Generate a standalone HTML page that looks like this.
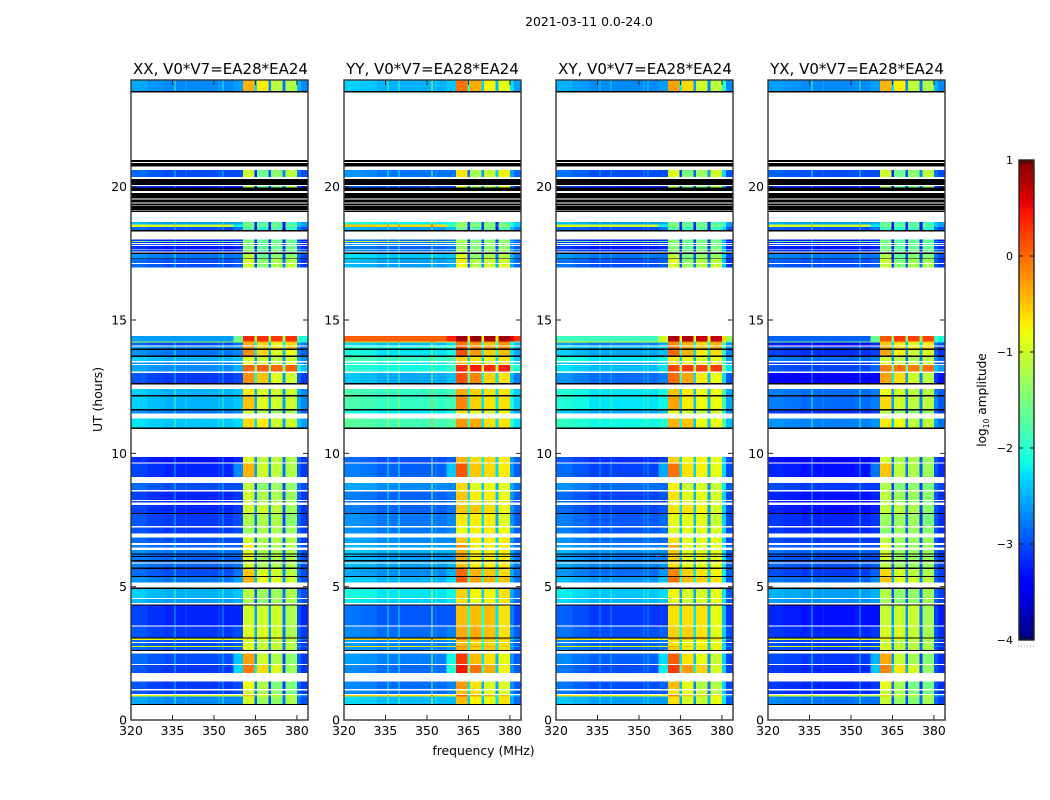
<!DOCTYPE html>
<html lang="en">
<head>
<meta charset="utf-8">
<title>2021-03-11 amplitude waterfall</title>
<style>
html,body{margin:0;padding:0;background:#fff;width:1050px;height:800px;overflow:hidden}
svg{display:block}
text{font-family:"DejaVu Sans","Liberation Sans",sans-serif;fill:#000}
</style>
</head>
<body>
<svg id="chart" xmlns="http://www.w3.org/2000/svg" width="1050" height="800" viewBox="0 0 1050 800">
  <rect x="0" y="0" width="1050" height="800" fill="#fff"/>
  <text x="589" y="26" font-size="12.4" text-anchor="middle">2021-03-11 0.0-24.0</text>
  <text x="220.5" y="74" font-size="15" text-anchor="middle">XX, V0*V7=EA28*EA24</text>
  <text x="432.5" y="74" font-size="15" text-anchor="middle">YY, V0*V7=EA28*EA24</text>
  <text x="645" y="74" font-size="15" text-anchor="middle">XY, V0*V7=EA28*EA24</text>
  <text x="857" y="74" font-size="15" text-anchor="middle">YX, V0*V7=EA28*EA24</text>
  <g id="panels"></g>
  <text x="483.5" y="755" font-size="12.4" text-anchor="middle">frequency (MHz)</text>
  <text transform="translate(102,399.5) rotate(-90)" font-size="12.4" text-anchor="middle">UT (hours)</text>
  <g id="colorbar"></g>
  <text transform="translate(986,400) rotate(-90)" font-size="12.2" text-anchor="middle">log<tspan font-size="7.5" dy="3">10</tspan><tspan dy="-3"> amplitude</tspan></text>
  <line x1="1018" y1="646" x2="1034" y2="646" stroke="#999" stroke-width="1" stroke-dasharray="1 2"/>
</svg>
<script>
// ---------- data: all values ----------
const panelNames = ['xx', 'yy', 'xy', 'yx'];
const freqTicks = [320, 335, 350, 365, 380];
const timeTicks = [0, 5, 10, 15, 20];
const colorbarTicks = [1, 0, -1, -2, -3, -4];
const colorbarLabels = ['1', '0', '\u22121', '\u22122', '\u22123', '\u22124'];

// frequency column edges in MHz
const freqEdges = [320, 326, 332, 335.7, 336.1, 339.7, 340.1, 345, 351.6, 352, 353, 353.4, 357, 360.5, 364.6, 365.6, 369.7, 370.7, 374.7, 375.8, 380, 381.5, 384];
// which level of a time row feeds each column: 0 left, 1 ramp, 2-5 bands, 6 tail
const columnSource = [0, 0, 0, 0, 0, 0, 0, 0, 0, 0, 0, 0, 1, 2, 3, 3, 4, 4, 5, 5, 6, 6];
// per-column offsets (log10 amplitude) for each polarisation
const columnOffsetXX = [.15, .05, 0, .7, 0, .2, 0, 0, .2, 0, .6, 0, 0, 0, -1.6, 0, -1.6, 0, -1.6, 0, .2, 0];
const columnOffsetYY = [.15, .1, 0, .7, 0, .7, 0, 0, 1.5, 0, .2, 0, 0, 0, -1.6, 0, -1.6, 0, -1.6, 0, .3, 0];
const columnOffsetXY = [.2, .1, 0, .4, 0, .4, 0, 0, .3, 0, .4, 0, 0, 0, -1.6, 0, -1.6, 0, -1.6, 0, .7, 0];
const columnOffsetYX = [.1, .05, 0, .9, 0, .2, 0, 0, .1, 0, .8, 0, 0, 0, -1.6, 0, -1.6, 0, -1.6, 0, .2, 0];

// time rows: start hour, end hour, left, ramp, band1-4, tail (log10 amplitude, XX)
const timeRows = [
  [23.58, 24, -2.7, -2.6, -0.4, -0.7, -1.1, -1.2, -2.7],
  [20.37, 20.62, -3.0, -3.0, -1.0, -1.6, -1.4, -1.1, -3.0],
  [19.96, 20.03, -3.2, -3.2, -1.2, -1.6, -1.5, -1.2, -3.2],
  [18.58, 18.67, -2.6, -2.5, -1.6, -1.8, -1.7, -1.9, -2.6],
  [18.49, 18.58, -1.0, -2.2, -1.5, -1.6, -1.6, -1.6, -2.6],
  [18.37, 18.49, -3.0, -2.8, -1.8, -2.0, -1.8, -2.0, -3.0],
  [17.97, 18.02, -3.3, -3.2, -1.6, -1.8, -1.7, -1.7, -3.3],
  [17.93, 17.97, -1.6, -1.8, -1.2, -1.4, -1.4, -1.4, -2.8],
  [17.88, 17.93, -3.3, -3.2, -1.6, -1.8, -1.7, -1.7, -3.3],
  [17.81, 17.85, -3.1, -3.0, -1.5, -1.7, -1.6, -1.6, -3.1],
  [17.67, 17.77, -3.3, -3.2, -1.5, -1.7, -1.6, -1.6, -3.2],
  [17.56, 17.64, -3.2, -3.1, -1.4, -1.6, -1.5, -1.5, -3.1],
  [17.31, 17.47, -2.8, -2.8, -1.1, -1.6, -1.4, -1.4, -3.0],
  [17.13, 17.28, -3.0, -2.9, -0.9, -1.4, -1.2, -1.2, -3.1],
  [16.96, 17.10, -3.0, -2.9, -1.0, -1.4, -1.2, -1.1, -3.1],
  [14.20, 14.40, -2.6, -1.6, 0.35, 0.3, 0.25, 0.3, -2.1],
  [14.16, 14.20, -1.2, -1.2, -0.4, -0.3, -0.6, -0.4, -2.0],
  [14.05, 14.16, -3.0, -2.8, -0.4, -0.6, -0.8, -0.6, -2.8],
  [13.94, 14.01, -2.7, -2.6, -0.2, -0.5, -0.6, -0.5, -2.8],
  [13.66, 13.87, -2.8, -2.7, -0.2, -0.6, -0.9, -0.8, -2.9],
  [13.46, 13.62, -2.5, -2.4, -0.9, -1.0, -1.1, -1.0, -2.7],
  [13.35, 13.41, -2.8, -2.6, -0.8, -0.9, -1.0, -0.9, -2.8],
  [13.06, 13.32, -2.7, -2.5, 0.0, 0.05, 0.0, 0.05, -2.4],
  [12.64, 13.02, -3.1, -3.0, -0.2, -0.5, -0.9, -1.0, -3.1],
  [12.19, 12.41, -2.5, -2.4, -0.7, -0.9, -1.0, -1.0, -2.7],
  [11.66, 12.14, -2.5, -2.4, -0.5, -0.9, -1.0, -1.0, -2.7],
  [11.49, 11.60, -2.8, -2.7, -1.0, -1.2, -1.3, -1.2, -2.9],
  [10.96, 11.30, -2.4, -2.3, -0.6, -0.7, -1.0, -1.0, -2.6],
  [9.66, 9.87, -3.3, -3.2, -0.9, -1.1, -1.1, -1.2, -3.1],
  [9.12, 9.62, -3.2, -2.7, -0.4, -1.0, -1.1, -1.2, -3.1],
  [8.62, 8.89, -3.0, -3.0, -1.1, -1.4, -1.3, -1.4, -3.0],
  [8.25, 8.56, -3.2, -3.1, -1.0, -1.2, -1.2, -1.3, -3.1],
  [8.16, 8.21, -3.2, -3.1, -1.1, -1.2, -1.2, -1.3, -3.1],
  [7.77, 8.06, -3.2, -3.1, -1.0, -1.0, -1.1, -1.3, -3.1],
  [7.27, 7.72, -3.1, -3.0, -1.2, -1.2, -1.2, -1.4, -3.1],
  [7.00, 7.21, -3.1, -3.0, -1.3, -1.2, -1.2, -1.3, -3.1],
  [6.63, 6.85, -3.0, -3.0, -1.0, -1.2, -1.2, -1.2, -3.1],
  [6.47, 6.56, -2.9, -2.9, -0.7, -1.2, -1.2, -1.2, -3.0],
  [6.25, 6.37, -2.8, -2.8, -0.9, -1.2, -1.2, -1.2, -3.0],
  [6.15, 6.21, -3.0, -2.9, -0.8, -1.2, -1.2, -1.2, -3.1],
  [6.00, 6.11, -2.9, -2.9, -0.9, -1.2, -1.2, -1.2, -3.0],
  [5.90, 5.95, -2.9, -2.8, -1.0, -1.2, -1.2, -1.2, -3.0],
  [5.72, 5.86, -2.9, -2.8, -1.0, -1.2, -1.2, -1.2, -3.0],
  [5.40, 5.67, -3.0, -2.8, -0.5, -0.9, -1.0, -1.1, -3.0],
  [5.15, 5.36, -2.8, -2.6, -0.4, -0.8, -0.9, -1.0, -3.0],
  [4.57, 4.91, -2.5, -2.4, -1.1, -1.3, -1.3, -1.2, -3.0],
  [4.38, 4.53, -2.6, -2.5, -1.2, -1.4, -1.3, -1.2, -3.0],
  [3.55, 4.29, -3.2, -3.2, -1.0, -1.0, -1.0, -1.2, -3.2],
  [3.10, 3.50, -3.1, -3.0, -0.9, -0.9, -1.0, -1.2, -3.1],
  [3.00, 3.05, -0.9, -1.0, -0.7, -0.8, -0.9, -1.0, -2.8],
  [2.92, 3.00, -3.0, -2.9, -1.0, -1.1, -1.1, -1.2, -3.1],
  [2.77, 2.88, -3.0, -2.9, -1.0, -1.1, -1.1, -1.2, -3.1],
  [2.73, 2.77, -1.0, -1.0, -0.7, -0.8, -0.9, -1.0, -2.8],
  [2.62, 2.73, -3.0, -2.9, -0.9, -1.1, -1.1, -1.2, -3.1],
  [2.10, 2.50, -3.0, -2.4, -0.3, -1.0, -1.2, -1.4, -3.1],
  [1.76, 2.06, -3.1, -2.3, -0.1, -0.6, -0.9, -1.3, -3.1],
  [1.16, 1.45, -3.1, -3.0, -0.8, -1.2, -1.5, -1.5, -3.1],
  [0.97, 1.10, -3.1, -3.0, -1.0, -1.2, -1.4, -1.5, -3.1],
  [0.88, 0.93, -0.9, -1.0, -0.5, -0.8, -0.9, -1.0, -2.6],
  [0.60, 0.88, -2.7, -2.7, -1.0, -1.3, -1.4, -1.2, -3.0]
];

// flagged (black) hour ranges
const flaggedHours = [
  [23.53, 23.58], [20.92, 21.0], [20.76, 20.88], [20.07, 20.29], [19.84, 19.96], [19.56, 19.77],
  [19.40, 19.52], [19.30, 19.37], [19.13, 19.27], [19.05, 19.11], [18.31, 18.37], [17.47, 17.54], [17.28, 17.31],
  [13.87, 13.94], [13.62, 13.66], [12.59, 12.64], [12.14, 12.19], [11.60, 11.66], [10.92, 10.96],
  [7.72, 7.77], [6.21, 6.25], [6.11, 6.15], [5.95, 6.00], [5.67, 5.72], [5.36, 5.40],
  [4.91, 4.96], [4.29, 4.34], [3.05, 3.10], [2.59, 2.62], [0.56, 0.60]
];

// polarisation shift by time group: lower hour, upper hour, left shift, band shift
const shiftGroupsYY = [[0, 5, .25, .55], [5, 10, .3, .5], [10, 14.5, .55, .35], [16, 19, .4, .2], [19, 24, .2, .35]];
const shiftGroupsXY = [[0, 5, .1, .35], [5, 10, .15, .35], [10, 14.5, .25, .2], [16, 19, 0, .05], [19, 24, 0, .1]];
const shiftGroupsYX = [[0, 5, -.1, -.05], [5, 10, -.1, -.1], [10, 14.5, -.35, -.1], [16, 19, 0, -.05], [19, 24, 0, 0]];
const shiftGroupsXX = [[0, 24, 0, 0]];

// strongest row (14.2-14.4 h) differs per polarisation: left, ramp, band1-4, tail
const peakRowStart = 14.20;
const peakRowXX = [-2.6, -1.6, 0.35, 0.3, 0.25, 0.3, -2.1];
const peakRowYY = [0.05, 0.4, 0.85, 0.9, 0.85, 0.85, 0.3];
const peakRowXY = [-1.9, -1.0, 0.8, 0.8, 0.7, 0.7, -1.3];
const peakRowYX = [-2.9, -1.6, 0.1, 0.25, 0.2, 0.2, -2.1];

const columnOffsets = [columnOffsetXX, columnOffsetYY, columnOffsetXY, columnOffsetYX];
const shiftGroups = [shiftGroupsXX, shiftGroupsYY, shiftGroupsXY, shiftGroupsYX];
const peakRows = [peakRowXX, peakRowYY, peakRowXY, peakRowYX];

// ---------- layout and scales ----------
const SVG_NS = 'http://www.w3.org/2000/svg';
const panelLefts = [131, 344, 556, 768];
const panelWidth = 177;
const plotTop = 80, plotBottom = 720;
const freqMin = 320, freqMax = 384;
const timeMin = 0, timeMax = 24;
const cbLeft = 1019, cbRight = 1034, cbTop = 160, cbBottom = 640;
const colorMin = -4, colorMax = 1;

function xScale(left, f) { return left + (f - freqMin) / (freqMax - freqMin) * panelWidth; }
function yScale(h) { return plotBottom - (h - timeMin) / (timeMax - timeMin) * (plotBottom - plotTop); }
function cbScale(v) { return cbBottom - (v - colorMin) / (colorMax - colorMin) * (cbBottom - cbTop); }

function interp(pts, t) {
  for (let i = 1; i < pts.length; i++) {
    if (t <= pts[i][0]) {
      const a = pts[i - 1], b = pts[i];
      return a[1] + (b[1] - a[1]) * (t - a[0]) / (b[0] - a[0]);
    }
  }
  return pts[pts.length - 1][1];
}
const jetR = [[0, 0], [.35, 0], [.66, 1], [.89, 1], [1, .5]];
const jetG = [[0, 0], [.125, 0], [.375, 1], [.64, 1], [.91, 0], [1, 0]];
const jetB = [[0, .5], [.11, 1], [.34, 1], [.65, 0], [1, 0]];
function color(v) {
  const t = Math.max(0, Math.min(1, (v - colorMin) / (colorMax - colorMin)));
  const c = [jetR, jetG, jetB].map(p => Math.round(interp(p, t) * 255));
  return 'rgb(' + c.join(',') + ')';
}

function make(tag, parent, attrs) {
  const el = document.createElementNS(SVG_NS, tag);
  for (const k in attrs) el.setAttribute(k, attrs[k]);
  parent.appendChild(el);
  return el;
}

function shiftFor(p, h0) {
  for (const g of shiftGroups[p]) {
    if (h0 >= g[0] && h0 < g[1]) return g;
  }
  return [0, 0, 0, 0];
}

// ---------- panels ----------
const panelsRoot = document.getElementById('panels');
panelNames.forEach(function (name, p) {
  const left = panelLefts[p];
  const g = make('g', panelsRoot, {});
  
  

  const heat = make('g', g, { 'shape-rendering': 'crispEdges' });
  
  

  timeRows.forEach(function (row) {
    const shift = shiftFor(p, row[0]);
    const isPeak = row[0] === peakRowStart;
    const levels = isPeak ? peakRows[p] : row.slice(2);
    for (let c = 0; c < columnSource.length; c++) {
      const src = columnSource[c];
      const delta = isPeak ? 0 : (src < 2 ? shift[2] : (src === 6 ? shift[2] * 0.6 : shift[3]));
      const value = levels[src] + delta + (isPeak && c < 13 ? 0 : columnOffsets[p][c]);
      const x0 = xScale(left, freqEdges[c]);
      const x1 = xScale(left, freqEdges[c + 1]);
      const y0 = yScale(row[1]);
      const y1 = yScale(row[0]);
      const cell = make('rect', heat, { x: x0, y: y0, width: x1 - x0, height: y1 - y0, fill: color(value) });
      
      
    }
  });

  flaggedHours.forEach(function (band) {
    const y0 = yScale(band[1]);
    const y1 = yScale(band[0]);
    const bar = make('rect', heat, { x: left, y: y0, width: panelWidth, height: y1 - y0, fill: '#000' });
    
    
  });

  const tickColor = '#222';
  freqTicks.forEach(function (f) {
    const x = xScale(left, f);
    const bottomTick = make('line', g, { x1: x, x2: x, y1: plotBottom, y2: plotBottom - 5, stroke: tickColor, 'stroke-width': 1 });
    
    
    const topTick = make('line', g, { x1: x, x2: x, y1: plotTop, y2: plotTop + 5, stroke: tickColor, 'stroke-width': 1 });
    
    
    const label = make('text', g, { x: x, y: 735, 'font-size': 12.4, 'text-anchor': 'middle' });
    
    
    label.textContent = String(f);
  });
  timeTicks.forEach(function (h) {
    const y = yScale(h);
    const leftTick = make('line', g, { x1: left, x2: left + 5, y1: y, y2: y, stroke: tickColor, 'stroke-width': 1 });
    
    
    const rightTick = make('line', g, { x1: left + panelWidth, x2: left + panelWidth - 5, y1: y, y2: y, stroke: tickColor, 'stroke-width': 1 });
    
    
    const label = make('text', g, { x: left - 4, y: y + 4.5, 'font-size': 12.4, 'text-anchor': 'end' });
    
    
    label.textContent = String(h);
  });

  const frame = make('rect', g, { x: left, y: plotTop, width: panelWidth, height: plotBottom - plotTop, fill: 'none', stroke: '#333', 'stroke-width': 1.4 });
  
  
});

// ---------- colorbar ----------
const cbRoot = document.getElementById('colorbar');
const cbSteps = 240;
for (let i = 0; i < cbSteps; i++) {
  const vHigh = colorMax - (colorMax - colorMin) * i / cbSteps;
  const vLow = colorMax - (colorMax - colorMin) * (i + 1) / cbSteps;
  const seg = make('rect', cbRoot, {
    x: cbLeft, y: cbScale(vHigh), width: cbRight - cbLeft, height: cbScale(vLow) - cbScale(vHigh) + 0.5,
    fill: color((vHigh + vLow) / 2), 'shape-rendering': 'crispEdges'
  });
  
  
}
for (let x = cbLeft + 2; x < cbRight - 1; x += 3) {
  const topMark = make('line', cbRoot, { x1: x, x2: x, y1: cbTop, y2: cbTop + 4, stroke: '#111', 'stroke-width': 1 });
  
  
  const bottomMark = make('line', cbRoot, { x1: x, x2: x, y1: cbBottom, y2: cbBottom - 4, stroke: '#111', 'stroke-width': 1 });
  
  
}
colorbarTicks.forEach(function (v, i) {
  const y = cbScale(v);
  const t1 = make('line', cbRoot, { x1: cbLeft, x2: cbLeft + 4, y1: y, y2: y, stroke: '#111', 'stroke-width': 1 });
  
  
  const t2 = make('line', cbRoot, { x1: cbRight, x2: cbRight - 4, y1: y, y2: y, stroke: '#111', 'stroke-width': 1 });
  
  
  const label = make('text', cbRoot, { x: cbLeft - 6, y: y + 4, 'font-size': 11, 'text-anchor': 'end' });
  
  
  label.textContent = colorbarLabels[i];
});
const cbFrame = make('rect', cbRoot, { x: cbLeft, y: cbTop, width: cbRight - cbLeft, height: cbBottom - cbTop, fill: 'none', stroke: '#222', 'stroke-width': 1.4 });


</script>
</body>
</html>
